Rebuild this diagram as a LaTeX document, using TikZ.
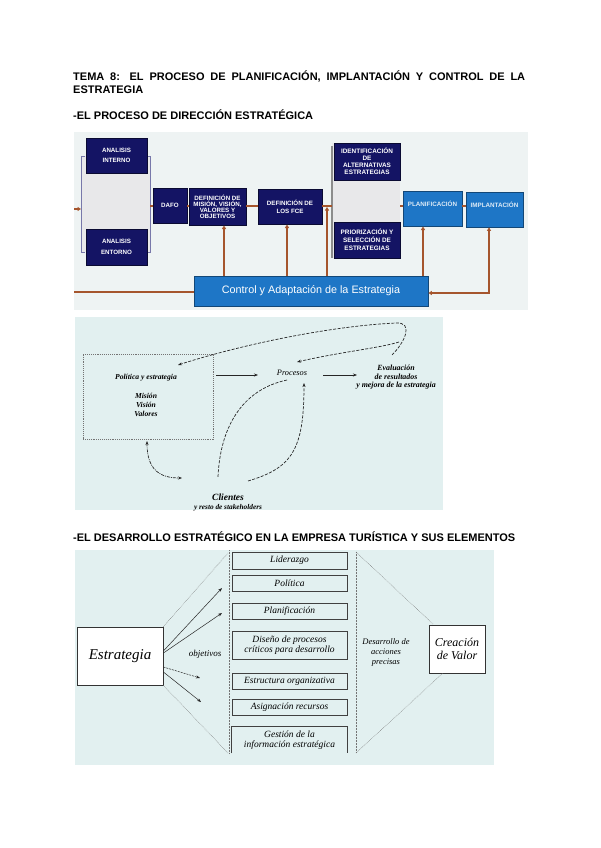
\documentclass[tikz,border=0pt]{standalone}
\usepackage{fontspec}
\setmainfont{Liberation Serif}
\setsansfont{Liberation Sans}
\usetikzlibrary{arrows.meta,calc}
\definecolor{pOne}{RGB}{238,243,243}
\definecolor{navyc}{RGB}{20,20,100}
\definecolor{midblue}{RGB}{30,118,198}
\definecolor{brownl}{RGB}{165,85,45}
\definecolor{pTwo}{RGB}{226,240,240}
\definecolor{colgray}{RGB}{232,232,234}
\definecolor{brk}{RGB}{120,120,170}
\begin{document}
\begin{tikzpicture}[x=1pt,y=-1pt,
  navybox/.style={fill=navyc,draw=navyc!50!black,line width=0.8pt,text=white,font=\sffamily\bfseries\fontsize{6.2}{6.1}\selectfont,align=center,inner sep=0pt},
  bluebox/.style={fill=midblue,draw=midblue!60!black,line width=0.8pt,text=white!85!midblue,font=\sffamily\bfseries\fontsize{6.3}{6}\selectfont,align=center,inner sep=0pt},
  brline/.style={draw=brownl,line width=1.4pt},
  brarr/.style={draw=brownl,line width=1.4pt,-{Triangle[length=3.5pt,width=4pt]}},
  titletxt/.style={font=\sffamily\bfseries\fontsize{11}{12}\selectfont,inner sep=0pt,anchor=base west},
  dtxt/.style={font=\bfseries\itshape\fontsize{7.6}{8.7}\selectfont,align=center,inner sep=1pt},
  solarr/.style={draw=black!85,line width=0.6pt,-{Stealth[length=4pt,width=3pt]}},
  dasharr/.style={draw=black!85,line width=0.7pt,dash pattern=on 3pt off 1.5pt,-{Stealth[length=4pt,width=3pt]}},
  elbox/.style={draw=black!75,line width=0.7pt,fill=pTwo,font=\itshape\fontsize{9.5}{10.5}\selectfont,align=center,inner sep=0pt,minimum width=115pt},
  guide/.style={draw=black!55,line width=0.5pt,densely dotted},
  ttxt/.style={font=\itshape\fontsize{9}{10}\selectfont,align=center,inner sep=0pt}
]
\useasboundingbox[fill=white] (0,0) rectangle (600,848);

% ---------- titles ----------
\node[titletxt] (t1) at (73,81) {\makebox[452pt][s]{TEMA 8: EL PROCESO DE PLANIFICACIÓN, IMPLANTACIÓN Y CONTROL DE LA}};
\node[titletxt] (t2) at (73,94) {ESTRATEGIA};
\node[titletxt] (t3) at (73,120) {-EL PROCESO DE DIRECCIÓN ESTRATÉGICA};
\node[titletxt] (t4) at (73,541) {-EL DESARROLLO ESTRATÉGICO EN LA EMPRESA TURÍSTICA Y SUS ELEMENTOS};

% ---------- diagram 1 ----------
\fill[pOne] (74,132) rectangle (528,310);
\fill[colgray] (81,156) rectangle (150,252);
\draw[brk,line width=0.8pt] (85,156) -- (81,156) -- (81,252) -- (85,252);
\draw[brk,line width=0.8pt] (146,156) -- (150,156) -- (150,252) -- (146,252);
\fill[colgray] (332,143) rectangle (400,258);
\draw[black!45,line width=1.2pt] (332,146) -- (332,258);

\node[navybox,minimum width=61pt,minimum height=35pt] (ai) at (116.5,155.5) {ANALISIS\\[4.5pt]INTERNO};
\node[navybox,minimum width=61pt,minimum height=36pt] (ae) at (116.5,247) {ANALISIS\\[4.5pt]ENTORNO};
\node[navybox,minimum width=34pt,minimum height=35pt] (dafo) at (170,205.5) {DAFO};
\node[navybox,minimum width=57pt,minimum height=37pt] (mis) at (217.5,206.5) {DEFINICIÓN DE\\MISIÓN, VISIÓN,\\VALORES Y\\OBJETIVOS};
\node[navybox,minimum width=64pt,minimum height=35pt] (fce) at (290,206.5) {DEFINICIÓN DE\\[1.5pt]LOS FCE};
\node[navybox,minimum width=66pt,minimum height=37pt,font=\sffamily\bfseries\fontsize{6.4}{7}\selectfont] (ide) at (367,161.5) {IDENTIFICACIÓN\\DE\\ALTERNATIVAS\\ESTRATEGIAS};
\node[navybox,minimum width=66pt,minimum height=36pt,font=\sffamily\bfseries\fontsize{6.4}{8}\selectfont] (pri) at (367,240) {PRIORIZACIÓN Y\\SELECCIÓN DE\\ESTRATEGIAS};
\node[bluebox,minimum width=59pt,minimum height=35pt] (pla) at (432.5,208.5) {PLANIFICACIÓN\\[4pt]\mbox{}};
\node[bluebox,minimum width=57pt,minimum height=35pt] (imp) at (494.5,209.5) {IMPLANTACIÓN\\[4pt]\mbox{}};
\node[bluebox,minimum width=234pt,minimum height=30pt,font=\sffamily\fontsize{10.8}{12}\selectfont,text=white] (ctl) at (311,291) {Control y Adaptación de la Estrategia};

\coordinate (lin) at (74,209);
\coordinate (brR) at (150,206);
\coordinate (colL) at (332,206);
\coordinate (colR) at (400,206);
\coordinate (lout) at (74,292);
\coordinate (corner) at (489,293);

\draw[brarr] (lin) -- (81,209);
\draw[brline] (brR) -- (dafo.west |- brR);
\draw[brline] (dafo.east |- brR) -- (mis.west |- brR);
\draw[brline] (mis.east |- brR) -- (fce.west |- brR);
\draw[brline] (fce.east |- brR) -- (colL);
\draw[brline] (colR) -- (pla.west |- colR);
\draw[brline] (pla.east |- colR) -- (imp.west |- colR);
\draw[brarr] (ctl.north -| 224,0) -- (224,225.5);
\draw[brarr] (ctl.north -| 287,0) -- (287,224.5);
\draw[brarr] (ctl.north -| 327,0) -- (327,207);
\draw[brarr] (ctl.north -| 423,0) -- (423,226.5);
\draw[brline] (lout) -- (ctl.west |- lout);
\draw[brline,{Triangle[length=3.5pt,width=4pt]}-{Triangle[length=3.5pt,width=4pt]}] (ctl.east |- corner) -- (corner) -- (imp.south -| corner);

% ---------- diagram 2 ----------
\fill[pTwo] (75,317) rectangle (443,510);
\node[draw=black!55,line width=0.9pt,densely dotted,minimum width=130pt,minimum height=85pt,inner sep=0pt] (pbox) at (148,396.5) {};
\node[dtxt] (pol) at (146,378) {Política y estrategia};
\node[dtxt] (mvv) at (146,405) {Misión\\Visión\\Valores};
\node[dtxt,font=\itshape\fontsize{8.3}{9}\selectfont] (proc) at (292,373) {Procesos};
\node[dtxt,font=\bfseries\itshape\fontsize{7.9}{8.5}\selectfont] (eval) at (396,377.5) {Evaluación\\de resultados\\y mejora de la estrategia};
\node[dtxt,font=\bfseries\itshape\fontsize{9.5}{10}\selectfont] (cli) at (228,497) {Clientes};
\node[dtxt,font=\bfseries\itshape\fontsize{7.3}{8}\selectfont] (sth) at (228,508) {y resto de stakeholders};

\coordinate (a1) at (216,375);
\coordinate (a2) at (258,375);
\coordinate (b1) at (323,375);
\coordinate (b2) at (357,375);
\draw[solarr] (a1) -- (a2);
\draw[solarr] (b1) -- (b2);
\draw[dasharr] (392,355) .. controls (405,342) and (414,322) .. (396,323) .. controls (330,326) and (240,345) .. (178,365);
\draw[dasharr] (399,342) .. controls (380,348) and (340,352) .. (297,362);
\draw[draw=black!85,line width=0.7pt,dash pattern=on 3pt off 1.5pt] (287,380) .. controls (240,390) and (220,430) .. (218,477);
\draw[dasharr] (248,481) .. controls (292,468) and (304,450) .. (304,383);
\draw[draw=black!85,line width=0.7pt,dash pattern=on 3pt off 1pt on 1pt off 1pt,{Stealth[length=4pt,width=3pt]}-{Stealth[length=4pt,width=3pt]}] (147,441) .. controls (147,470) and (160,478) .. (182,478);

% ---------- diagram 3 ----------
\fill[pTwo] (75,550) rectangle (494,765);
\node[draw=black!80,line width=0.8pt,fill=white,minimum width=86pt,minimum height=58pt,font=\itshape\fontsize{15}{17}\selectfont,inner sep=0pt] (estr) at (120,656) {Estrategia};
\node[draw=black!80,line width=0.8pt,fill=white,minimum width=56pt,minimum height=48pt,font=\itshape\fontsize{12}{13}\selectfont,align=center,inner sep=0pt] (crea) at (457,649) {Creación\\de Valor};

\node[elbox,minimum height=17pt] (lid) at (289.5,560.5) {Liderazgo};
\node[elbox,minimum height=16pt] (polt) at (289.5,583) {Política};
\node[elbox,minimum height=16pt] (plan) at (289.5,611) {Planificación};
\node[elbox,minimum height=28pt] (dis) at (289.5,645) {Diseño de procesos\\críticos para desarrollo};
\node[elbox,minimum height=16pt] (estc) at (289.5,681) {Estructura organizativa};
\node[elbox,minimum height=16pt] (asi) at (289.5,707) {Asignación recursos};
\node[elbox,draw=none,minimum height=26pt] (ges) at (289.5,740) {Gestión de la\\información estratégica};
\draw[draw=black!75,line width=0.7pt] (ges.south west) -- (ges.north west) -- (ges.north east) -- (ges.south east);

\coordinate (cTL) at (228,553);
\coordinate (cBL) at (228,753);
\coordinate (rT) at (356,552);
\coordinate (rB) at (356,753);
\draw[guide] (229,550) -- (229,753);
\draw[guide] (estr.north east) -- (cTL);
\draw[guide] (estr.south east) -- (cBL);
\draw[guide] (rT) -- (rB);
\draw[guide] (rT) -- ([xshift=5pt]crea.north west);
\draw[guide] (rB) -- ([xshift=14pt]crea.south west);

\node[ttxt] (obj) at (205,654) {objetivos};
\node[ttxt,font=\itshape\fontsize{8.5}{10}\selectfont] (des) at (386,652) {Desarrollo de\\acciones\\precisas};

\coordinate (e1) at (222,588);
\coordinate (e2) at (222,613);
\coordinate (e3) at (200,678);
\coordinate (e4) at (201,702);
\draw[solarr,line width=0.5pt] ([yshift=5pt]estr.east) -- (e1);
\draw[solarr,line width=0.5pt] ([yshift=3pt]estr.east) -- (e2);
\draw[dasharr,line width=0.5pt,dash pattern=on 2pt off 1pt] ([yshift=-11pt]estr.east) -- (e3);
\draw[solarr,line width=0.5pt] ([yshift=-16pt]estr.east) -- (e4);
\end{tikzpicture}
\end{document}
